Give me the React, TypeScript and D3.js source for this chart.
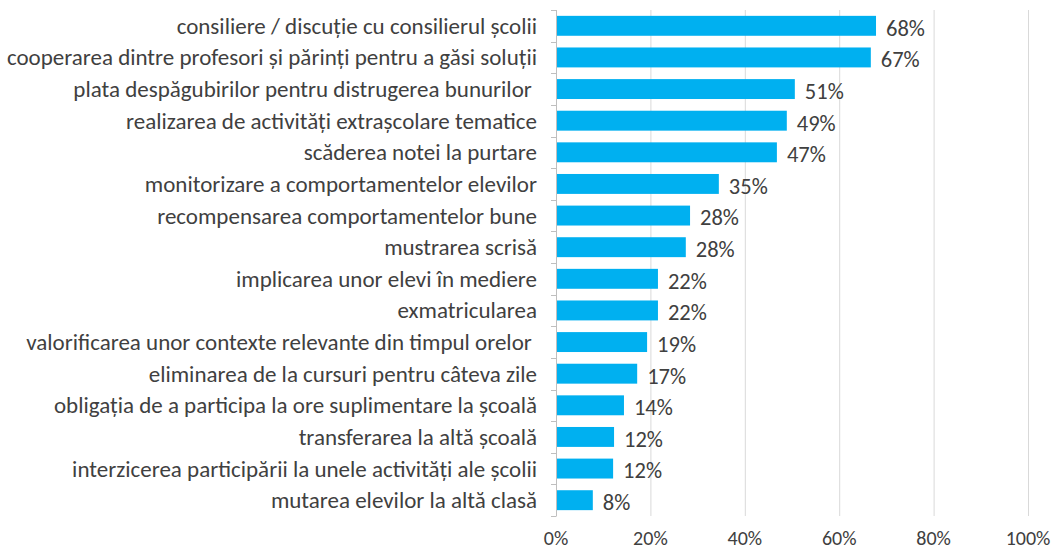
import { useEffect, useRef } from 'react';
import * as d3 from 'd3';

const categories = [
  'consiliere / discuție cu consilierul școlii',
  'cooperarea dintre profesori și părinți pentru a găsi soluții',
  'plata despăgubirilor pentru distrugerea bunurilor ',
  'realizarea de activități extrașcolare tematice',
  'scăderea notei la purtare',
  'monitorizare a comportamentelor elevilor',
  'recompensarea comportamentelor bune',
  'mustrarea scrisă',
  'implicarea unor elevi în mediere',
  'exmatricularea',
  'valorificarea unor contexte relevante din timpul orelor ',
  'eliminarea de la cursuri pentru câteva zile',
  'obligația de a participa la ore suplimentare la școală',
  'transferarea la altă școală',
  'interzicerea participării la unele activități ale școlii',
  'mutarea elevilor la altă clasă',
];

const values = [
  0.678, 0.667, 0.506, 0.489, 0.468, 0.345, 0.284, 0.275, 0.216, 0.216, 0.193, 0.172, 0.144,
  0.123, 0.121, 0.078,
];

const labels = ['68%', '67%', '51%', '49%', '47%', '35%', '28%', '28%', '22%', '22%', '19%', '17%', '14%', '12%', '12%', '8%'];

const xTicks = [0, 0.2, 0.4, 0.6, 0.8, 1];

export default function App() {
  const svgRef = useRef<SVGSVGElement>(null);

  useEffect(() => {
    if (!svgRef.current) return;
    document.body.style.margin = '0';

    const svg = d3.select(svgRef.current);
    svg.selectAll('*').remove();

    const width = 1054;
    const height = 552;
    const left = 556;
    const right = 1028;
    const top = 10;
    const bottom = 516;
    const font = 'Carlito, Lato, "Open Sans", sans-serif';
    const textColor = '#404040';

    const x = d3.scaleLinear().domain([0, 1]).range([left, right]);
    const y = d3
      .scaleBand<string>()
      .domain(categories)
      .range([top, bottom])
      .paddingInner(0.37)
      .paddingOuter(0.185);

    svg.attr('width', width).attr('height', height).style('display', 'block');

    // gridlines
    svg
      .append('g')
      .selectAll('line')
      .data(xTicks.slice(1))
      .join('line')
      .attr('x1', (d) => x(d) + 0.5)
      .attr('x2', (d) => x(d) + 0.5)
      .attr('y1', top)
      .attr('y2', bottom)
      .attr('stroke', '#D9D9D9')
      .attr('stroke-width', 1);

    // x tick labels
    svg
      .append('g')
      .selectAll('text')
      .data(xTicks)
      .join('text')
      .attr('x', (d) => x(d))
      .attr('y', 545)
      .attr('text-anchor', 'middle')
      .attr('font-family', font)
      .attr('font-size', '20px')
      .attr('fill', textColor)
      .text((d) => d3.format('.0%')(d));

    // bars
    svg
      .append('g')
      .selectAll('rect')
      .data(values)
      .join('rect')
      .attr('x', x(0))
      .attr('y', (_, i) => y(categories[i])!)
      .attr('width', (d) => x(d) - x(0))
      .attr('height', y.bandwidth())
      .attr('fill', '#00B0F0');

    // left axis with ticks at band boundaries
    const step = y.step();
    const axis = svg.append('g').attr('stroke', '#BFBFBF').attr('stroke-width', 1);
    axis
      .append('line')
      .attr('x1', left + 0.5)
      .attr('x2', left + 0.5)
      .attr('y1', top)
      .attr('y2', bottom);
    axis
      .selectAll('line.tick')
      .data(d3.range(categories.length + 1))
      .join('line')
      .attr('class', 'tick')
      .attr('x1', left - 5)
      .attr('x2', left + 0.5)
      .attr('y1', (i) => Math.round(top + i * step) + 0.5)
      .attr('y2', (i) => Math.round(top + i * step) + 0.5);

    // category labels
    svg
      .append('g')
      .selectAll('text')
      .data(categories)
      .join('text')
      .attr('x', 537)
      .attr('y', (d) => y(d)! + y.bandwidth() / 2)
      .attr('dy', '0.35em')
      .attr('text-anchor', 'end')
      .attr('font-family', font)
      .attr('font-size', '23px')
      .attr('fill', textColor)
      .style('white-space', 'pre')
      .text((d) => d);

    // value labels
    svg
      .append('g')
      .selectAll('text')
      .data(values)
      .join('text')
      .attr('x', (d) => x(d) + 10)
      .attr('y', (_, i) => y(categories[i])! + y.bandwidth() / 2 + 2)
      .attr('dy', '0.35em')
      .attr('font-family', font)
      .attr('font-size', '22.5px')
      .attr('fill', textColor)
      .text((_, i) => labels[i]);
  }, []);

  return <svg ref={svgRef}></svg>;
}
